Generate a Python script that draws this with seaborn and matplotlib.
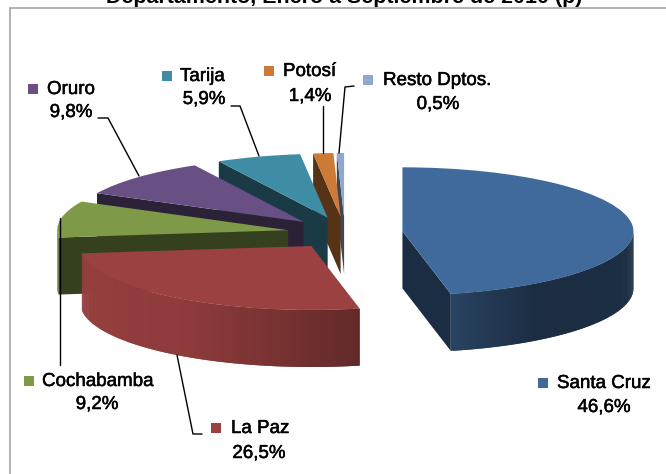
import numpy as np
import matplotlib
matplotlib.use("Agg")
import matplotlib.pyplot as plt
import matplotlib.colors as mcolors
import matplotlib.patheffects as pe
import seaborn as sns

departamentos = ["Santa Cruz", "La Paz", "Cochabamba", "Oruro", "Tarija", "Potosí", "Resto Dptos."]
valores = [46.6, 26.5, 9.2, 9.8, 5.9, 1.4, 0.5]
colores = ["#416A9C", "#9C4141", "#7E9A48", "#695084", "#3F8CA5", "#CC7A36", "#8FA8D0"]
titulo = "Departamento, Enero a Septiembre de 2010 (p)"

W, H = 666, 474
CX, CY = 345, 233      # centro del pie en pixeles
RX, RY = 231, 64       # radios de la elipse
DEPTH = 57 / RY        # alto de la pared, en unidades del pie

# sombra de la pared curva segun el angulo horario desde arriba
SOMBRA_ANG = [90, 145, 167.8, 190, 215, 270]
SOMBRA_F = [0.45, 0.42, 0.63, 0.78, 0.92, 0.98]

# posicion de cada etiqueta en pixeles: cuadro, inicio del nombre, y del nombre, centro del %, y del %
etiquetas = {
    "Santa Cruz": (543, 557, 382, 604, 406),
    "La Paz": (216, 231, 427, 259, 452),
    "Cochabamba": (29, 42, 380, 97, 403),
    "Oruro": (33, 47, 88, 71, 111),
    "Tarija": (167, 180, 75, 204, 98),
    "Potosí": (269, 283, 70, 310, 95),
    "Resto Dptos.": (368, 383, 79, 438, 103),
}
guias = [
    [(98, 118), (108, 118), (139, 176)],
    [(231, 106), (240, 106), (259, 156)],
    [(323, 106), (323, 153)],
    [(354, 86), (345, 87), (339, 153)],
    [(60, 218), (60, 365)],
    [(177, 355), (193, 434), (202, 434)],
]


def px(x, y):
    return (x - CX) / RX, (CY - y) / RY


def punto(w, ang):
    # ang en grados matematicos
    a = np.radians(ang)
    return w.center[0] + np.cos(a), w.center[1] + np.sin(a)


def oscurecer(color, f):
    r, g, b = mcolors.to_rgb(color)
    return (r * f, g * f, b * f)


def pared_radial(ax, w, ang, color, z):
    x0, y0 = w.center
    x1, y1 = punto(w, ang)
    ax.fill([x0, x1, x1, x0], [y0, y1, y1 - DEPTH, y0 - DEPTH], color=color, lw=0, zorder=z)


def pared_curva(ax, w, color, z):
    # solo la parte de adelante del arco, -180 a 0 grados matematicos
    a0, a1 = max(w.theta1, -180), min(w.theta2, 0)
    if a1 <= a0:
        return
    angs = np.linspace(a0, a1, int(a1 - a0) * 2 + 2)
    # de izquierda a derecha, cada tramo pisa un poco al siguiente para que no queden rayas
    for j in range(len(angs) - 1):
        a, b = angs[j], angs[j + 1]
        c = angs[min(j + 2, len(angs) - 1)]
        xa, ya = punto(w, a)
        xc, yc = punto(w, c)
        f = np.interp(90 - (a + b) / 2, SOMBRA_ANG, SOMBRA_F)
        ax.fill([xa, xc, xc, xa], [ya, yc, yc - DEPTH, ya - DEPTH],
                color=oscurecer(color, f), lw=0, zorder=z)


def main():
    sns.set_theme(style="white")
    plt.rcParams["font.family"] = ["Liberation Sans", "DejaVu Sans"]

    fig = plt.figure(figsize=(W / 100, H / 100), dpi=100)
    fig.patch.set_facecolor("white")
    ax = fig.add_axes([0, 0, 1, 1])

    wedges, _ = ax.pie(valores, colors=colores, explode=[0.25] * len(valores),
                       startangle=90, counterclock=False, radius=1,
                       wedgeprops={"linewidth": 0})
    ax.set_aspect("auto")
    ax.set_xlim(px(0, 0)[0], px(W, 0)[0])
    ax.set_ylim(px(0, H)[1], px(0, 0)[1])

    n = len(wedges)
    for i, w in enumerate(wedges):
        z = 10 * (n - i)
        color = colores[i]
        pared_curva(ax, w, color, z)
        inicio = (90 - w.theta2) % 360   # borde de entrada, horario desde arriba
        fin = (90 - w.theta1) % 360 or 360
        if 180 < inicio < 360:
            pared_radial(ax, w, w.theta2, oscurecer(color, 0.42), z)
        if 0 < fin < 180:
            pared_radial(ax, w, w.theta1, oscurecer(color, 0.42), z)
        w.set_zorder(z + 1)

    # marco del area del grafico
    ax.plot(*zip(px(10, 8), px(W, 8)), color="#A6A6A6", lw=1.2, zorder=200)
    ax.plot(*zip(px(10, 8), px(10, H)), color="#A6A6A6", lw=1.2, zorder=200)

    for guia in guias:
        ax.plot(*zip(*[px(x, y) for x, y in guia]), color="black", lw=1, zorder=150)

    grueso = [pe.withStroke(linewidth=0.35, foreground="black")]
    for nombre, valor, color in zip(departamentos, valores, colores):
        mx, tx, ty, vx, vy = etiquetas[nombre]
        ax.scatter(*px(mx, ty + 0.5), marker="s", s=45, color=color, zorder=160, linewidths=0)
        ax.text(*px(tx, ty + 1.5), nombre, fontsize=13.5, ha="left", va="center", color="black",
                zorder=170, path_effects=grueso)
        ax.text(*px(vx, vy + 1.5), f"{valor:.1f}%".replace(".", ","), fontsize=13.5,
                ha="center", va="center", color="black", zorder=170, path_effects=grueso)

    ax.text(*px(344, 3), titulo, fontsize=15.4, fontweight="bold", ha="center", va="baseline",
            color="black", zorder=170, clip_on=False)

    fig.savefig("out.png", dpi=100)
    plt.close(fig)


if __name__ == "__main__":
    main()
